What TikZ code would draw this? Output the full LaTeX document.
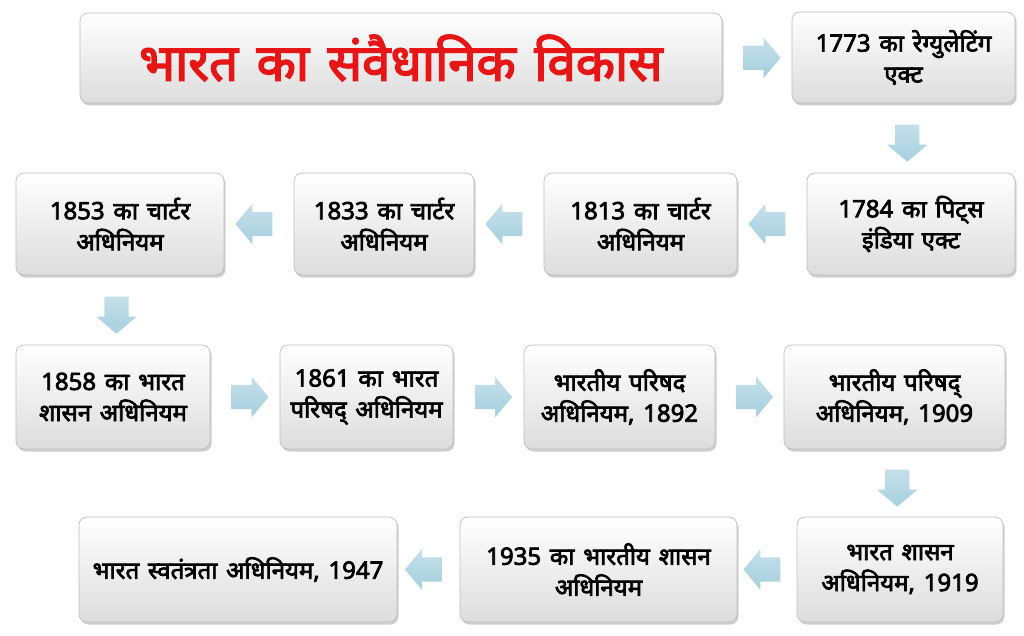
\documentclass[tikz,border=0pt]{standalone}
\usepackage{fontspec}
\setmainfont[Script=Devanagari]{Noto Sans}
\newfontfamily\hbold[Script=Devanagari,FakeBold=3,WordSpace=1.4]{Noto Sans}
\usetikzlibrary{shapes.arrows,shadows,calc}
\definecolor{arrowblue}{RGB}{165,207,222}
\definecolor{titlered}{RGB}{230,22,22}
\begin{document}
\begin{tikzpicture}[x=1pt,y=-1pt,
 box/.style={draw=gray!50, line width=0.7pt, rounded corners=8pt,
   top color=white, bottom color=gray!27,
   drop shadow={shadow xshift=1.5pt,shadow yshift=-2.5pt,opacity=0.55,fill=gray!70},
   align=center, font=\hbold\fontsize{24}{31}\selectfont, inner sep=0pt},
 barrow/.style={single arrow, top color=arrowblue!65!white, bottom color=arrowblue, draw=none,
   minimum height=37pt, inner xsep=0pt, inner ysep=12pt,
   single arrow head extend=8pt, single arrow tip angle=100}
]
\useasboundingbox (0,0) rectangle (1024,636);
\fill[white] (0,0) rectangle (1024,636);

\node[box, minimum width=642pt, minimum height=90pt, font=\hbold\fontsize{51}{56}\selectfont, text=titlered] (title) at (401,58) {भारत का संवैधानिक विकास};
\node[box, minimum width=223pt, minimum height=91pt] (b1) at (903.5,57.5) {1773 का रेग्युलेटिंग\\एक्ट};

\node[box, minimum width=208pt, minimum height=102pt] (b2) at (911,224) {1784 का पिट्स\\इंडिया एक्ट};
\node[box, minimum width=193pt, minimum height=102pt] (b3) at (640.5,224) {1813 का चार्टर\\अधिनियम};
\node[box, minimum width=180pt, minimum height=102pt] (b4) at (384,224) {1833 का चार्टर\\अधिनियम};
\node[box, minimum width=208pt, minimum height=102pt] (b5) at (120,224) {1853 का चार्टर\\अधिनियम};

\node[box, minimum width=194pt, minimum height=104pt] (b6) at (113,397) {1858 का भारत\\शासन अधिनियम};
\node[box, minimum width=173pt, minimum height=104pt] (b7) at (366.5,397) {1861 का भारत\\परिषद् अधिनियम};
\node[box, minimum width=191pt, minimum height=104pt] (b8) at (619.5,397) {भारतीय परिषद\\अधिनियम, 1892};
\node[box, minimum width=221pt, minimum height=104pt] (b9) at (894.5,397) {भारतीय परिषद्\\अधिनियम, 1909};

\node[box, minimum width=206pt, minimum height=105pt] (b10) at (900,569.5) {भारत शासन\\अधिनियम, 1919};
\node[box, minimum width=277pt, minimum height=105pt] (b11) at (598.5,569.5) {1935 का भारतीय शासन\\अधिनियम};
\node[box, minimum width=318pt, minimum height=105pt] (b12) at (238,569.5) {भारत स्वतंत्रता अधिनियम, 1947};

% block arrows
\node[barrow] (a1) at ($(title.east)!0.5!(b1.west)$) {};
\node[barrow, rotate=-90] (a2) at ($(b1.south)!0.5!(b2.north)$) {};
\node[barrow, rotate=180] (a3) at ($(b2.west)!0.5!(b3.east)$) {};
\node[barrow, rotate=180] (a4) at ($(b3.west)!0.5!(b4.east)$) {};
\node[barrow, rotate=180] (a5) at ($(b4.west)!0.5!(b5.east)$) {};
\node[barrow, rotate=-90] (a6) at ($(b5.south)!0.5!(b6.north)$) {};
\node[barrow] (a7) at ($(b6.east)!0.5!(b7.west)$) {};
\node[barrow] (a8) at ($(b7.east)!0.5!(b8.west)$) {};
\node[barrow] (a9) at ($(b8.east)!0.5!(b9.west)$) {};
\node[barrow, rotate=-90] (a10) at ($(b9.south)!0.5!(b10.north)$) {};
\node[barrow, rotate=180] (a11) at ($(b10.west)!0.5!(b11.east)$) {};
\node[barrow, rotate=180] (a12) at ($(b11.west)!0.5!(b12.east)$) {};
\end{tikzpicture}
\end{document}
